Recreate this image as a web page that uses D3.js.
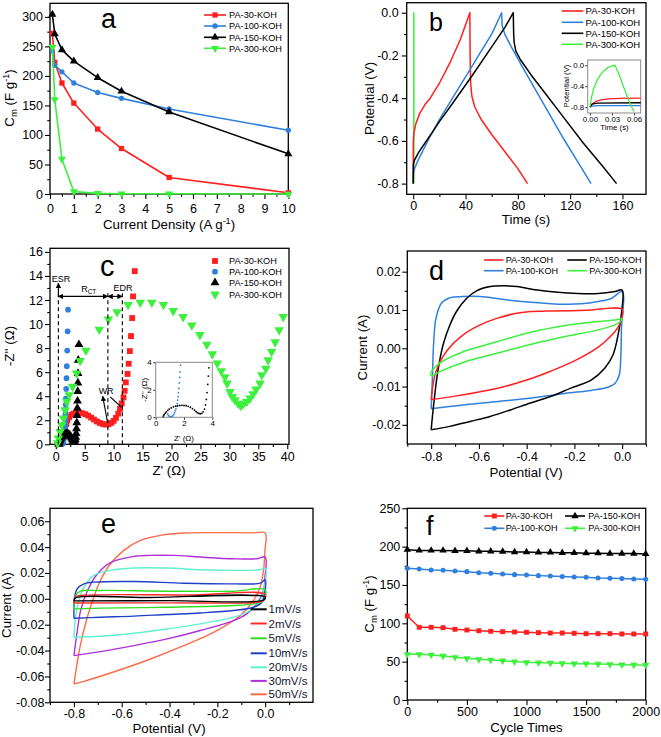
<!DOCTYPE html>
<html><head><meta charset="utf-8">
<script src="https://cdn.jsdelivr.net/npm/d3@7"></script>
<style>
body{margin:0;background:#fff;}
svg{display:block;font-family:"Liberation Sans",Arial,Helvetica,sans-serif;}
</style></head><body>
<svg id="fig" width="661" height="737"></svg>
<script>
// ---------------- DATA ----------------
const sampleNames = ["PA-30-KOH","PA-100-KOH","PA-150-KOH","PA-300-KOH"];
const sampleColors = ["#ff1f1f","#2f80de","#000000","#3ef03e"];

// (a) rate capability
const aCurrent = [0.1,0.2,0.5,1,2,3,5,10];
const aPA30  = [272,223,188,154,110,77,28,2];
const aPA100 = [242,218,207,188,172,162,144,108];
const aPA150 = [304,271,244,225,197,174,139,68];
const aPA300 = [249,160,59,4,1,0.5,0.3,0];

// (b) GCD  [time s, potential V]
const bPA30 = [[0,-0.8],[0.05,-0.6],[0.6,-0.56],[2,-0.52],[5,-0.47],[9,-0.43],[13,-0.4],[20,-0.33],[28,-0.235],[36,-0.125],[43.3,0],[43.5,-0.2],[43.9,-0.33],[44.8,-0.39],[47,-0.44],[52,-0.5],[60,-0.57],[70,-0.65],[80,-0.73],[87.4,-0.8]];
const bPA100 = [[0,-0.8],[0.1,-0.75],[1,-0.73],[3,-0.7],[7,-0.65],[12,-0.59],[20,-0.5],[30,-0.4],[40,-0.3],[50,-0.2],[60,-0.1],[67.6,0],[68,-0.06],[70,-0.1],[75,-0.16],[85,-0.27],[100,-0.43],[115,-0.59],[127,-0.71],[136,-0.8]];
const bPA150 = [[0,-0.8],[0.1,-0.71],[1,-0.69],[4,-0.655],[9,-0.61],[14,-0.565],[20,-0.51],[30,-0.425],[45,-0.295],[60,-0.16],[70,-0.07],[76.5,0],[76.8,-0.1],[77.2,-0.14],[78.5,-0.18],[82,-0.22],[90,-0.29],[100,-0.37],[115,-0.49],[130,-0.61],[145,-0.72],[155.5,-0.8]];
const bPA300 = [[0.4,-0.8],[0.45,0],[0.5,-0.8]];
// (b) inset
const biPA30  = [[0,-0.8],[0.003,-0.74],[0.008,-0.69],[0.015,-0.66],[0.025,-0.64],[0.04,-0.63],[0.07,-0.625]];
const biPA100 = [[0,-0.8],[0.003,-0.78],[0.01,-0.77],[0.07,-0.77]];
const biPA150 = [[0,-0.8],[0.003,-0.74],[0.01,-0.72],[0.07,-0.715]];
const biPA300 = [[0,-0.8],[0.002,-0.62],[0.005,-0.45],[0.01,-0.28],[0.015,-0.17],[0.02,-0.09],[0.025,-0.04],[0.03,-0.01],[0.034,0],[0.038,-0.12],[0.043,-0.3],[0.048,-0.5],[0.053,-0.68],[0.057,-0.8],[0.06,-0.88]];

// (c) Nyquist [Z', -Z'']
const cPA30 = [[1.5,0.6],[1.6,1.2],[1.8,1.7],[2.0,2.0],[2.3,2.25],[2.7,2.45],[3.1,2.55],[3.6,2.6],[4.1,2.62],[4.6,2.58],[5.1,2.5],[5.6,2.38],[6.1,2.22],[6.6,2.06],[7.1,1.9],[7.6,1.78],[8.1,1.69],[8.6,1.64],[9.1,1.66],[9.6,1.78],[10.0,1.95],[10.4,2.2],[10.8,2.55],[11.1,2.95],[11.4,3.4],[11.7,3.9],[11.9,4.45],[12.1,5.15],[12.4,5.85],[12.6,6.7],[12.8,7.75],[13.0,9.0],[13.2,10.5],[13.35,12.3],[13.65,14.4]];
const cPA100 = [[0.85,0.25],[0.9,0.13],[0.97,0.06],[1.05,0.03],[1.13,0.05],[1.2,0.1],[1.27,0.2],[1.33,0.33],[1.38,0.47],[1.43,0.62],[1.48,0.8],[1.52,1.0],[1.55,1.25],[1.58,1.5],[1.61,1.8],[1.64,2.1],[1.67,2.5],[1.7,2.9],[1.72,3.3],[1.75,3.8],[1.8,4.6],[1.85,5.5],[1.9,6.5],[1.97,7.8],[2.05,9.4],[2.12,11.2]];
const cPA150 = [[0.5,0],[0.55,0.1],[0.6,0.2],[0.68,0.3],[0.75,0.4],[0.85,0.5],[0.95,0.6],[1.1,0.68],[1.25,0.76],[1.4,0.81],[1.55,0.84],[1.7,0.86],[1.85,0.87],[2.0,0.86],[2.15,0.84],[2.3,0.8],[2.45,0.73],[2.6,0.63],[2.75,0.52],[2.85,0.42],[2.95,0.34],[3.05,0.28],[3.15,0.26],[3.25,0.29],[3.35,0.4],[3.45,0.6],[3.52,0.9],[3.58,1.3],[3.63,1.8],[3.68,2.4],[3.72,3.0],[3.76,3.6],[3.8,4.4],[3.82,5.1],[3.84,5.9],[3.88,7.0],[4.0,8.3]];
const cPA300 = [[0.3,0.1],[0.45,0.5],[0.74,1.05],[1.03,1.6],[1.32,2.16],[1.6,2.85],[1.9,3.55],[2.3,4.1],[2.9,4.8],[3.6,5.9],[4.2,6.95],[5.2,7.8],[7.5,9.55],[9.1,10.4],[10.6,11.0],[12.5,11.6],[14.6,11.8],[16.6,11.8],[18.6,11.6],[20.3,11.1],[22.0,10.6],[23.5,9.9],[24.9,9.1],[26.1,8.3],[27.05,7.5],[27.9,6.73],[28.6,6.1],[29.24,5.6],[29.6,5.07],[30.1,4.37],[30.5,3.95],[30.97,3.68],[31.5,3.4],[31.95,3.2],[32.4,3.35],[33.0,3.54],[33.56,3.82],[34.1,4.18],[34.6,4.57],[35.3,5.07],[35.6,5.76],[36.3,6.3],[36.7,7.0],[37.3,7.7],[37.9,8.5],[38.6,9.5],[39.3,10.6]];

// (d) CV at fixed rate [V, mA]
const dPA30 = [[-0.8,-13.4],[-0.78,-6.1],[-0.737,-0.9],[-0.666,3.5],[-0.595,6.1],[-0.525,7.8],[-0.454,9],[-0.384,9.6],[-0.313,9.7],[-0.15,9.9],[0,10.1],[-0.005,7.2],[-0.02,5.2],[-0.05,3.0],[-0.1,0.3],[-0.2,-3.3],[-0.3,-6],[-0.4,-8.3],[-0.5,-10.1],[-0.6,-11.4],[-0.7,-12.5],[-0.8,-13.4]];
const dPA100 = [[-0.8,-15.8],[-0.795,-8],[-0.79,0.9],[-0.78,7.8],[-0.758,11.7],[-0.722,13.2],[-0.666,13.5],[-0.595,13.5],[-0.525,13.0],[-0.454,12.4],[-0.384,12.0],[-0.313,11.7],[-0.243,11.5],[-0.172,11.6],[-0.1,12.2],[-0.045,13],[0,14.8],[-0.003,5],[-0.006,-3],[-0.012,-7],[-0.03,-9.2],[-0.06,-10.2],[-0.13,-11],[-0.24,-11.8],[-0.38,-13],[-0.52,-13.9],[-0.666,-14.8],[-0.8,-15.8]];
const dPA150 = [[-0.8,-21.3],[-0.79,-15],[-0.772,-6],[-0.75,0.9],[-0.722,6],[-0.694,9.6],[-0.652,13],[-0.61,15],[-0.553,16.1],[-0.497,16.3],[-0.44,16.1],[-0.356,15.2],[-0.27,14.6],[-0.186,14.3],[-0.1,14.3],[-0.03,14.8],[0,15.2],[-0.002,9.6],[-0.017,3.5],[-0.038,-1.7],[-0.073,-5.2],[-0.13,-8.3],[-0.215,-10.4],[-0.3,-12.6],[-0.384,-14.3],[-0.468,-16.1],[-0.553,-17.8],[-0.637,-19.1],[-0.722,-20.4],[-0.8,-21.3]];
const dPA300 = [[-0.8,-6.1],[-0.765,-3.9],[-0.666,-0.9],[-0.525,1.7],[-0.384,4.2],[-0.243,5.9],[-0.1,7.0],[-0.03,7.4],[0,7.7],[-0.01,6.8],[-0.03,6.1],[-0.1,4.8],[-0.243,3.0],[-0.384,1.0],[-0.525,-1.3],[-0.666,-3.7],[-0.765,-6.1],[-0.8,-7.2],[-0.8,-6.1]];

// (e) CV at different scan rates [V, mA]
const eRates = ["1mV/s","2mV/s","5mV/s","10mV/s","20mV/s","30mV/s","50mV/s"];
const eColors = ["#000000","#ff2a2a","#33dd22","#1f3fc8","#5ff0cf","#b030d8","#ff6a48"];
const e1  = [[-0.8,-1.6],[-0.793,0.8],[-0.5,1.0],[0,1.3],[-0.007,-0.9],[-0.4,-1.4],[-0.8,-1.6]];
const e2  = [[-0.8,-3.2],[-0.793,1.8],[-0.758,2.8],[-0.3,3.0],[0,3.4],[-0.007,-1.3],[-0.049,-2.8],[-0.4,-3.1],[-0.8,-3.2]];
const e5  = [[-0.8,-7.8],[-0.793,2.6],[-0.772,5.9],[-0.689,6.5],[-0.41,5.9],[-0.132,5.9],[0,7],[-0.007,-1.3],[-0.049,-3.9],[-0.132,-5.2],[-0.41,-6.5],[-0.689,-7.2],[-0.8,-7.8]];
const e10 = [[-0.8,-15],[-0.797,1.3],[-0.786,7.8],[-0.758,11.6],[-0.717,12.9],[-0.55,13.4],[-0.341,12.1],[-0.132,11.6],[-0.021,12.1],[0,14.7],[-0.003,3.9],[-0.014,-2.6],[-0.049,-6.5],[-0.132,-9],[-0.271,-10.9],[-0.41,-12.1],[-0.55,-13.4],[-0.689,-14.2],[-0.8,-15]];
const e20 = [[-0.8,-29.7],[-0.793,-14.2],[-0.779,-1.3],[-0.758,9],[-0.717,18.1],[-0.647,22],[-0.55,23.8],[-0.41,23.8],[-0.271,22.5],[-0.132,22],[-0.021,22.5],[0,23.8],[-0.003,9],[-0.021,-1.3],[-0.063,-9],[-0.132,-14.2],[-0.271,-19.4],[-0.41,-23.3],[-0.55,-26.6],[-0.689,-28.9],[-0.8,-29.7]];
const e30 = [[-0.8,-43.9],[-0.786,-25],[-0.772,-9],[-0.744,6],[-0.703,19],[-0.647,28],[-0.55,32.8],[-0.48,33.6],[-0.382,33.6],[-0.271,32.3],[-0.132,31],[-0.035,31],[0,32.3],[-0.001,16.8],[-0.007,6.5],[-0.035,-3.9],[-0.077,-11.6],[-0.132,-16.8],[-0.271,-24.5],[-0.41,-31],[-0.55,-36.2],[-0.689,-40.8],[-0.8,-43.9]];
const e50 = [[-0.8,-65.9],[-0.772,-34.9],[-0.744,-14.2],[-0.717,1.3],[-0.689,14.2],[-0.647,27.1],[-0.591,37.5],[-0.522,45.2],[-0.438,49.1],[-0.341,50.9],[-0.202,51.2],[-0.05,51],[0,50.9],[-0.001,37.5],[-0.007,22],[-0.021,9],[-0.049,-1.3],[-0.104,-12.9],[-0.202,-24.5],[-0.341,-36.2],[-0.48,-46.5],[-0.619,-55.6],[-0.758,-63.8],[-0.8,-65.9]];

// (f) cycling stability
const fCycles = [0,100,200,300,400,500,600,700,800,900,1000,1100,1200,1300,1400,1500,1600,1700,1800,1900,2000];
const fPA30  = [109.6,94.8,94.8,94.3,92.2,91.3,90.4,89.6,89.1,88.7,88.3,87.8,87.4,87.4,87,86.5,86.5,86.5,86.1,86.1,86.1];
const fPA100 = [171.7,170.9,169.6,169.1,168.3,167.4,166,165.2,164.3,163.5,163,162.2,161.7,160.9,160.4,160,159.1,158.7,158.3,157.8,157.4];
const fPA150 = [196,195,195,195,194.5,194.5,194,194,193.5,193,193,192.5,192.5,192,192,191.5,191.5,191,191,191,190.5];
const fPA300 = [59.6,59.6,58.7,57.4,55.7,54.3,53,52.2,51.3,50,49.1,48.7,48.3,47.8,47.4,47.4,47,46.5,46.1,45.7,45.7];

// ---------------- DRAWING ----------------
const svg = d3.select("#fig");
let clipN = 0;

function range(a, b, s) { const r=[]; for (let i=0;;i++){ const v=+(a+i*s).toFixed(6); if (v>b+1e-9) break; r.push(v);} return r; }

function panel(o) {
  const x = d3.scaleLinear().domain(o.xDom).range([o.x0, o.x1]);
  const y = d3.scaleLinear().domain(o.yDom).range([o.y1, o.y0]);
  const g = svg.append("g");
  const id = "clip" + (clipN++);
  svg.append("clipPath").attr("id", id).append("rect")
    .attr("x", o.x0).attr("y", o.y0).attr("width", o.x1 - o.x0).attr("height", o.y1 - o.y0);
  const fs = o.tickFont || 12.5;
  const tl = o.tickLen || 5;
  if (o.xMinor) {
    const m = g.append("g").attr("transform", `translate(0,${o.y1})`)
      .call(d3.axisBottom(x).tickValues(o.xMinor).tickSize(tl*0.55).tickFormat(""));
    m.select(".domain").remove();
  }
  if (o.yMinor) {
    const m = g.append("g").attr("transform", `translate(${o.x0},0)`)
      .call(d3.axisLeft(y).tickValues(o.yMinor).tickSize(tl*0.55).tickFormat(""));
    m.select(".domain").remove();
  }
  const bx = g.append("g").attr("transform", `translate(0,${o.y1})`)
    .call(d3.axisBottom(x).tickValues(o.xTicks).tickSize(tl).tickPadding(o.xPad ?? 2.5).tickFormat(o.xFmt));
  bx.select(".domain").remove();
  bx.selectAll("text").attr("font-size", fs).attr("fill", "#000").attr("font-family", null);
  const ly = g.append("g").attr("transform", `translate(${o.x0},0)`)
    .call(d3.axisLeft(y).tickValues(o.yTicks).tickSize(tl).tickPadding(o.yPad ?? 2).tickFormat(o.yFmt));
  ly.select(".domain").remove();
  ly.selectAll("text").attr("font-size", fs).attr("fill", "#000").attr("font-family", null);
  g.selectAll(".tick line").attr("stroke", "#000").attr("stroke-width", o.tickW || 1.1);
  g.append("rect").attr("x", o.x0).attr("y", o.y0).attr("width", o.x1 - o.x0).attr("height", o.y1 - o.y0)
    .attr("fill", "none").attr("stroke", o.frame || "#000").attr("stroke-width", o.frameW || 1.3);
  const plot = svg.append("g").attr("clip-path", `url(#${id})`);
  const free = svg.append("g");
  return { x, y, g, plot, free, o };
}

function line(p, data, color, opt = {}) {
  const gen = d3.line().x(d => p.x(d[0])).y(d => p.y(d[1] * (opt.k || 1)));
  if (opt.curve) gen.curve(opt.curve);
  (opt.free ? p.free : p.plot).append("path").attr("d", gen(data)).attr("fill", "none")
    .attr("stroke", color).attr("stroke-width", opt.w || 1.5).attr("stroke-linejoin", "round");
}

const symTypes = [d3.symbolSquare, d3.symbolCircle, d3.symbolTriangle, d3.symbolTriangle];
function markers(p, data, idx, size, color, layer) {
  const s = d3.symbol().type(symTypes[idx]).size(size);
  (layer || p.free).selectAll(null).data(data).join("path")
    .attr("d", s)
    .attr("transform", d => `translate(${p.x(d[0])},${p.y(d[1])})` + (idx === 3 ? " rotate(180)" : ""))
    .attr("fill", color);
}

function text(x, y, str, opt = {}) {
  const t = svg.append("text").attr("x", x).attr("y", y).attr("font-size", opt.size || 13.3)
    .attr("text-anchor", opt.anchor || "middle").attr("fill", opt.color || "#000");
  if (opt.rotate) t.attr("transform", `rotate(-90,${x},${y})`);
  if (opt.dy) t.attr("dy", opt.dy);
  if (str) t.append("tspan").text(str);
  return t;
}
function cmTitle(x, y) {
  const t = text(x, y, "C", { rotate: true, dy: "0.35em" });
  t.append("tspan").attr("font-size", 9.5).attr("dy", 3).text("m");
  t.append("tspan").attr("dy", -3).text(" (F g");
  t.append("tspan").attr("font-size", 9).attr("dy", -5).text("-1");
  t.append("tspan").attr("dy", 5).text(")");
}
function panelLetter(x, y, s, size) {
  text(x, y, s, { size: size || 27, anchor: "start" });
}
const f1 = v => v.toFixed(1), f2 = v => v.toFixed(2), f0 = v => String(v);

// ===== (a) =====
{
  const p = panel({ x0: 50, x1: 288.3, y0: 3.3, y1: 194, xDom: [0, 10], yDom: [0, 323],
    xTicks: range(0, 10, 1), xMinor: range(0.5, 9.5, 1), yTicks: range(0, 300, 50), yMinor: range(25, 300, 50),
    xFmt: f0, yFmt: f0, xPad: 5 });
  const series = [aPA30, aPA100, aPA150, aPA300];
  series.forEach((s, i) => {
    const d = aCurrent.map((c, j) => [c, s[j]]);
    line(p, d, sampleColors[i], { w: 1.6, free: true });
    markers(p, d, i, i === 1 ? 22 : 28, sampleColors[i]);
  });
  const ly = [15, 26, 37.3, 48.3];
  sampleNames.forEach((n, i) => {
    svg.append("line").attr("x1", 204).attr("x2", 226).attr("y1", ly[i]).attr("y2", ly[i]).attr("stroke", sampleColors[i]).attr("stroke-width", 1.6);
    const s = d3.symbol().type(symTypes[i]).size(i === 1 ? 22 : 28);
    svg.append("path").attr("d", s).attr("transform", `translate(215,${ly[i]})` + (i === 3 ? " rotate(180)" : "")).attr("fill", sampleColors[i]);
    text(229, ly[i], n, { size: 9.2, anchor: "start", dy: "0.35em" });
  });
  panelLetter(101, 28, "a", 27);
  const t = text(169, 228.5, "Current Density (A g");
  t.append("tspan").attr("font-size", 9).attr("dy", -5).text("-1");
  t.append("tspan").attr("dy", 5).text(")");
  cmTitle(9, 98);
}

// ===== (b) =====
{
  const p = panel({ x0: 406.7, x1: 646, y0: 2.7, y1: 194.3, xDom: [-5, 178], yDom: [-0.85, 0.047],
    xTicks: [0, 40, 80, 120, 160], xMinor: [20, 60, 100, 140], yTicks: [-0.8, -0.6, -0.4, -0.2, 0], yMinor: [-0.7, -0.5, -0.3, -0.1],
    xFmt: f0, yFmt: f1, xPad: 2, yPad: 3 });
  const series = [bPA30, bPA100, bPA150, bPA300];
  [3, 0, 1, 2].forEach(i => line(p, series[i], sampleColors[i], { w: 1.5 }));
  const ly = [11, 22.3, 33.3, 44.3];
  sampleNames.forEach((n, i) => {
    svg.append("line").attr("x1", 561.7).attr("x2", 583.3).attr("y1", ly[i]).attr("y2", ly[i]).attr("stroke", sampleColors[i]).attr("stroke-width", 1.6);
    text(585.5, ly[i], n, { size: 9.5, anchor: "start", dy: "0.35em" });
  });
  panelLetter(429, 31, "b", 25);
  text(526, 224, "Time (s)");
  text(369, 98.5, "Potential (V)", { rotate: true, dy: "0.35em" });
  const q = panel({ x0: 587.7, x1: 640.7, y0: 60, y1: 113, xDom: [-0.003, 0.069], yDom: [-0.91, 0.1],
    xTicks: [0, 0.03, 0.06], yTicks: [-0.8, -0.4, 0], xFmt: f2, yFmt: f1, tickFont: 7.8, tickLen: 2.5,
    xPad: 0.5, yPad: 1, frame: "#8a8a8a", frameW: 1, tickW: 0.8 });
  const iser = [biPA30, biPA100, biPA150, biPA300];
  [0, 1, 2, 3].forEach(i => line(q, iser[i], sampleColors[i], { w: 1.3 }));
  text(614.5, 130, "Time (s)", { size: 7.8 });
  text(566, 86, "Potential (V)", { size: 7.8, rotate: true, dy: "0.35em" });
}

// ===== (c) =====
{
  const p = panel({ x0: 50, x1: 289, y0: 248.3, y1: 444.3, xDom: [-1, 40.3], yDom: [0, 16.3],
    xTicks: range(0, 40, 5), xMinor: range(2.5, 37.5, 5), yTicks: range(0, 16, 2), yMinor: range(1, 15, 2),
    xFmt: f0, yFmt: f0, xPad: 2.5 });
  const series = [cPA30, cPA100, cPA150, cPA300];
  const sz = [34, 26, 34, 40];
  series.forEach((s, i) => markers(p, s, i, sz[i], sampleColors[i]));
  const ly = [261, 271.7, 282.7, 294.3];
  sampleNames.forEach((n, i) => {
    const s = d3.symbol().type(symTypes[i]).size(sz[i]);
    svg.append("path").attr("d", s).attr("transform", `translate(215,${ly[i]})` + (i === 3 ? " rotate(180)" : "")).attr("fill", sampleColors[i]);
    text(229, ly[i], n, { size: 9.2, anchor: "start", dy: "0.35em" });
  });
  panelLetter(100, 276, "c", 29);
  text(169, 475, "Z' (\u03A9)");
  text(9, 346, "-Z'' (\u03A9)", { rotate: true, dy: "0.35em" });
  const dash = "4,3";
  const X = p.x, Y = p.y;
  const defs = svg.append("defs");
  defs.append("marker").attr("id", "ah").attr("viewBox", "0 0 10 10").attr("refX", 9).attr("refY", 5)
    .attr("markerWidth", 5).attr("markerHeight", 5).attr("orient", "auto-start-reverse")
    .append("path").attr("d", "M0,0L10,5L0,10z").attr("fill", "#000");
  const ann = svg.append("g").attr("stroke", "#000").attr("stroke-width", 1.1).attr("fill", "none");
  ann.append("line").attr("x1", X(0.45)).attr("x2", X(0.45)).attr("y1", Y(0)).attr("y2", Y(12.6)).attr("stroke-dasharray", dash);
  ann.append("line").attr("x1", X(0.45)).attr("x2", X(0.45)).attr("y1", Y(12.3)).attr("y2", Y(13.4)).attr("marker-end", "url(#ah)");
  ann.append("line").attr("x1", X(9)).attr("x2", X(9)).attr("y1", Y(0)).attr("y2", Y(12.6)).attr("stroke-dasharray", dash);
  ann.append("line").attr("x1", X(11.5)).attr("x2", X(11.5)).attr("y1", Y(0)).attr("y2", Y(12.8)).attr("stroke-dasharray", dash);
  ann.append("line").attr("x1", X(0.45)).attr("x2", X(9)).attr("y1", Y(12.3)).attr("y2", Y(12.3))
    .attr("marker-start", "url(#ah)").attr("marker-end", "url(#ah)");
  ann.append("line").attr("x1", X(9)).attr("x2", X(11.5)).attr("y1", Y(12.3)).attr("y2", Y(12.3))
    .attr("marker-start", "url(#ah)").attr("marker-end", "url(#ah)");
  ann.append("line").attr("x1", X(8.95)).attr("x2", X(8.1)).attr("y1", Y(1.8)).attr("y2", Y(4.0)).attr("marker-end", "url(#ah)");
  ann.append("line").attr("x1", X(11.3)).attr("x2", X(9.4)).attr("y1", Y(3.1)).attr("y2", Y(3.95));
  text(X(0.9), Y(13.75), "ESR", { size: 9, dy: "0.35em" });
  text(X(5.7), Y(12.95), "R", { size: 9, dy: "0.35em" }).append("tspan").attr("font-size", 6.5).attr("dy", 2).text("CT");
  text(X(11.6), Y(13.05), "EDR", { size: 9, dy: "0.35em" });
  text(X(8.7), Y(4.45), "WR", { size: 9, dy: "0.35em" });
  const q = panel({ x0: 155.7, x1: 212.3, y0: 362.3, y1: 417.3, xDom: [0, 4], yDom: [0, 4],
    xTicks: [0, 2, 4], yTicks: [0, 2, 4], xFmt: f0, yFmt: f0, tickFont: 8, tickLen: 2.5,
    xPad: 1, yPad: 1.5, frame: "#8a8a8a", frameW: 1, tickW: 0.8 });
  [cPA100, cPA150].forEach((s, k) => {
    const i = k + 1;
    q.plot.selectAll(null).data(s).join("circle").attr("cx", d => q.x(d[0])).attr("cy", d => q.y(d[1]))
      .attr("r", 0.9).attr("fill", sampleColors[i]);
  });
  text(184, 440.5, "Z' (\u03A9)", { size: 8 });
  text(144, 389.8, "-Z'' (\u03A9)", { size: 8, rotate: true, dy: "0.35em" });
}

// ===== (d) =====
{
  const p = panel({ x0: 407.3, x1: 646, y0: 251, y1: 444, xDom: [-0.9, 0.1], yDom: [-0.025, 0.0254],
    xTicks: [-0.8, -0.6, -0.4, -0.2, 0], xMinor: [-0.9, -0.7, -0.5, -0.3, -0.1, 0.1], yTicks: [-0.02, -0.01, 0, 0.01, 0.02], yMinor: [-0.015, -0.005, 0.005, 0.015],
    xFmt: f1, yFmt: f2, xPad: 3, yPad: 1.5 });
  const series = [dPA30, dPA100, dPA150, dPA300];
  const cr = d3.curveCatmullRom.alpha(0.5);
  [1, 2, 0, 3].forEach(i => line(p, series[i], sampleColors[i], { w: 1.5, k: 0.001, curve: cr }));
  const pos = [[484, 505.7, 260], [484, 505.7, 270.7], [567.3, 589.3, 260], [567.3, 589.3, 270.7]];
  sampleNames.forEach((n, i) => {
    const [lx, tx, yy] = pos[i];
    svg.append("line").attr("x1", lx).attr("x2", lx + 19.5).attr("y1", yy).attr("y2", yy).attr("stroke", sampleColors[i]).attr("stroke-width", 1.6);
    text(tx, yy, n, { size: 9.1, anchor: "start", dy: "0.35em" });
  });
  panelLetter(429, 280, "d", 27);
  text(526, 476.5, "Potential (V)");
  text(362.5, 347.5, "Current (A)", { rotate: true, dy: "0.35em" });
}

// ===== (e) =====
{
  const p = panel({ x0: 50, x1: 313, y0: 508.3, y1: 702.3, xDom: [-0.9, 0.2], yDom: [-0.08, 0.07],
    xTicks: [-0.8, -0.6, -0.4, -0.2, 0], xMinor: [-0.9, -0.7, -0.5, -0.3, -0.1, 0.1], yTicks: [-0.08, -0.06, -0.04, -0.02, 0, 0.02, 0.04, 0.06], yMinor: [-0.07, -0.05, -0.03, -0.01, 0.01, 0.03, 0.05],
    xFmt: f1, yFmt: f2, xPad: 1.5, yPad: 0.5 });
  const series = [e1, e2, e5, e10, e20, e30, e50];
  const cr = d3.curveCatmullRom.alpha(0.5);
  [6, 5, 4, 3, 2, 1, 0].forEach(i => line(p, series[i], eColors[i], { w: 1.4, k: 0.001, curve: cr }));
  const ly = [609.3, 623.5, 638.3, 653.3, 667.3, 680.9, 694.3];
  eRates.forEach((n, i) => {
    svg.append("line").attr("x1", 250.7).attr("x2", 266.7).attr("y1", ly[i]).attr("y2", ly[i]).attr("stroke", eColors[i]).attr("stroke-width", 2);
    text(268.5, ly[i], n, { size: 11.5, anchor: "start", dy: "0.35em", color: "#161630" });
  });
  panelLetter(101, 533, "e", 27);
  text(169, 732.5, "Potential (V)");
  text(6.5, 605, "Current (A)", { rotate: true, dy: "0.35em" });
}

// ===== (f) =====
{
  const p = panel({ x0: 407.3, x1: 645.7, y0: 508.3, y1: 700, xDom: [0, 2000], yDom: [0, 250],
    xTicks: [0, 500, 1000, 1500, 2000], xMinor: [250, 750, 1250, 1750], yTicks: range(0, 250, 50), yMinor: range(25, 225, 50),
    xFmt: f0, yFmt: f0, xPad: 2 });
  const series = [fPA30, fPA100, fPA150, fPA300];
  series.forEach((s, i) => {
    const d = fCycles.map((c, j) => [c, s[j]]);
    line(p, d, sampleColors[i], { w: 1.5, free: true });
    markers(p, d, i, i === 1 ? 20 : 24, sampleColors[i]);
  });
  const pos = [[484.3, 505.7, 516], [484.3, 505.7, 528.3], [565, 588.3, 516], [565, 588.3, 528.3]];
  sampleNames.forEach((n, i) => {
    const [lx, tx, yy] = pos[i];
    svg.append("line").attr("x1", lx).attr("x2", lx + 20).attr("y1", yy).attr("y2", yy).attr("stroke", sampleColors[i]).attr("stroke-width", 1.6);
    const s = d3.symbol().type(symTypes[i]).size(i === 1 ? 20 : 24);
    svg.append("path").attr("d", s).attr("transform", `translate(${lx + 10},${yy})` + (i === 3 ? " rotate(180)" : "")).attr("fill", sampleColors[i]);
    text(tx, yy, n, { size: 9, anchor: "start", dy: "0.35em" });
  });
  panelLetter(426, 535, "f", 27);
  text(526.5, 732, "Cycle Times");
  cmTitle(369.5, 604);
}
</script>
</body></html>
